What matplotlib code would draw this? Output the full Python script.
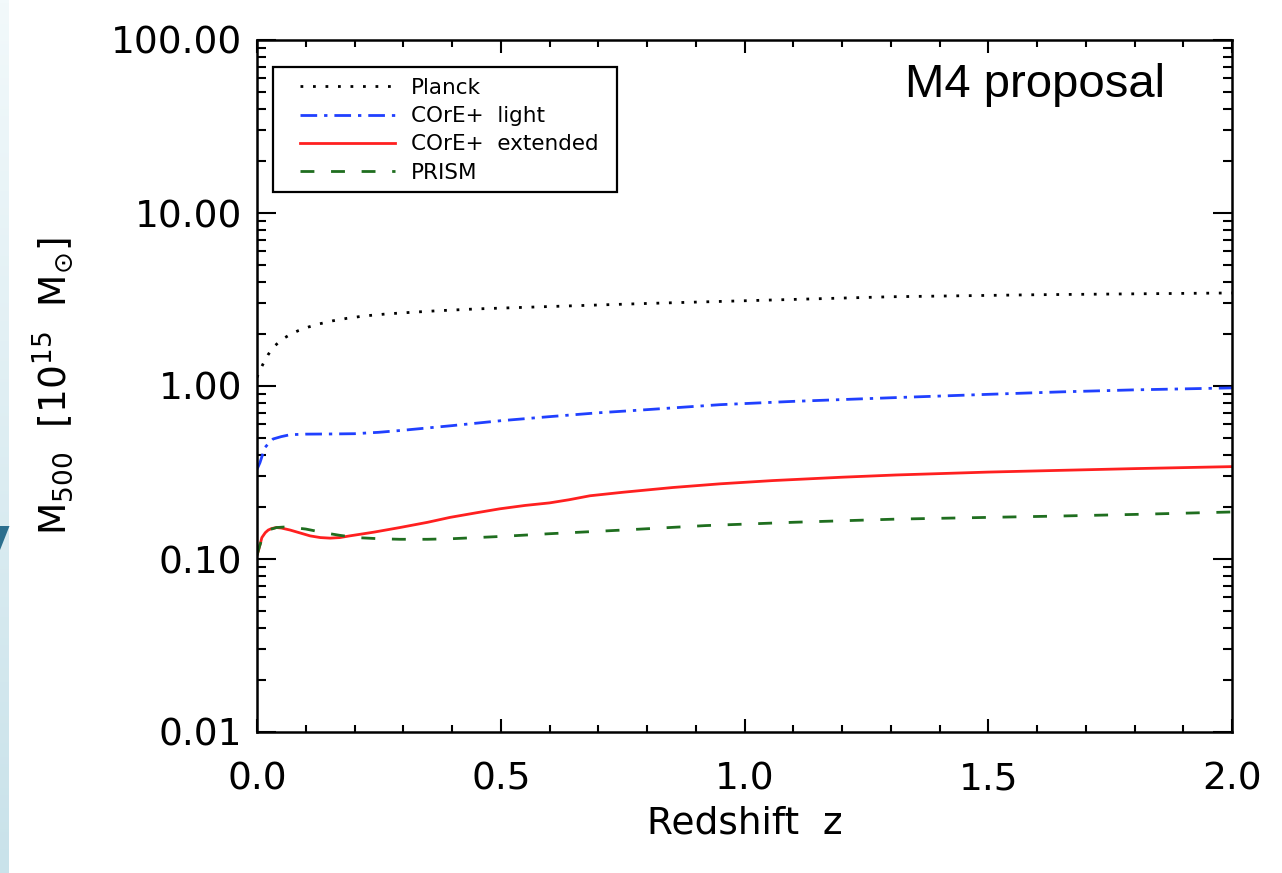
import numpy as np
import matplotlib
matplotlib.use("Agg")
import matplotlib.pyplot as plt
from matplotlib.ticker import LogLocator, FixedLocator, MultipleLocator, FormatStrFormatter, NullFormatter
from matplotlib.patches import Polygon, Rectangle
from matplotlib.colors import LinearSegmentedColormap

# ---------------- data ----------------
z_planck = [0.0, 0.005, 0.013, 0.023, 0.033, 0.05, 0.07, 0.085, 0.105, 0.126, 0.155,
            0.184, 0.22, 0.266, 0.32, 0.368, 0.45, 0.6, 0.8, 1.0, 1.3, 1.6, 2.0]
m_planck = [1.12, 1.22, 1.35, 1.52, 1.67, 1.85, 2.0, 2.09, 2.19, 2.28, 2.38,
            2.46, 2.54, 2.61, 2.67, 2.72, 2.79, 2.88, 3.0, 3.11, 3.28, 3.37, 3.45]

z_light = [0.0, 0.006, 0.016, 0.025, 0.033, 0.05, 0.068, 0.1, 0.15, 0.2, 0.25, 0.3,
           0.4, 0.5, 0.6, 0.7, 0.8, 0.95, 1.1, 1.3, 1.5, 1.65, 1.8, 2.0]
m_light = [0.33, 0.36, 0.44, 0.47, 0.494, 0.51, 0.523, 0.527, 0.528, 0.53, 0.54, 0.555,
           0.59, 0.63, 0.665, 0.70, 0.73, 0.78, 0.815, 0.855, 0.895, 0.925, 0.95, 0.975]

z_ext = [0.0, 0.003, 0.01, 0.017, 0.023, 0.03, 0.04, 0.05, 0.068, 0.09, 0.109, 0.13,
         0.15, 0.17, 0.19, 0.24, 0.293, 0.35, 0.396, 0.45, 0.498, 0.55, 0.6, 0.64,
         0.683, 0.75, 0.853, 0.95, 1.058, 1.2, 1.311, 1.5, 1.64, 1.8, 2.0]
m_ext = [0.105, 0.112, 0.133, 0.142, 0.147, 0.15, 0.152, 0.151, 0.147, 0.141, 0.136, 0.133,
         0.132, 0.133, 0.136, 0.143, 0.152, 0.163, 0.174, 0.185, 0.195, 0.204, 0.211, 0.22,
         0.232, 0.243, 0.259, 0.272, 0.284, 0.297, 0.306, 0.318, 0.325, 0.333, 0.342]

z_prism = [0.0, 0.005, 0.01, 0.02, 0.03, 0.04, 0.055, 0.074, 0.1, 0.143, 0.17, 0.204,
           0.25, 0.293, 0.35, 0.4, 0.5, 0.6, 0.75, 0.92, 1.1, 1.31, 1.5, 1.64, 1.8, 2.0]
m_prism = [0.105, 0.118, 0.13, 0.144, 0.149, 0.152, 0.153, 0.152, 0.149, 0.141, 0.137, 0.133,
           0.131, 0.13, 0.13, 0.131, 0.135, 0.14, 0.147, 0.156, 0.163, 0.17, 0.174, 0.177, 0.181, 0.187]

labels = ["Planck", "COrE+  light", "COrE+  extended", "PRISM"]
ytick_vals = [0.01, 0.1, 1.0, 10.0, 100.0]
xtick_vals = [0.0, 0.5, 1.0, 1.5, 2.0]

# ---------------- figure ----------------
W, H = 1282, 873
fig = plt.figure(figsize=(W / 100, H / 100), dpi=100)
fig.patch.set_facecolor("white")

# decorative left strip (slide background)
bg = fig.add_axes([0, 0, 9 / W, 1])
grad = np.linspace(0, 1, 256).reshape(-1, 1)
cm = LinearSegmentedColormap.from_list("strip", ["#f2f9fb", "#c9e2ea"])
bg.imshow(grad, aspect="auto", cmap=cm, extent=[0, 1, 0, 1], origin="upper")
bg.set_axis_off()
fig.patches.append(Polygon([(0, 1 - 526 / H), (9.5 / W, 1 - 526 / H), (0, 1 - 550 / H)],
                           closed=True, transform=fig.transFigure, facecolor="#2b6f8e",
                           edgecolor="none", zorder=5))

L, R, T, B = 257, 1232, 40, 732
ax = fig.add_axes([L / W, 1 - B / H, (R - L) / W, (B - T) / H])

lw = 2.0
ax.plot(z_planck, m_planck, color="black", lw=lw, linestyle=(0, (1.0, 3.5)),
        dash_capstyle="butt", label=labels[0])
ax.plot(z_light, m_light, color="#2040ff", lw=lw, linestyle=(0, (6, 2.5, 1.2, 2.5)),
        label=labels[1])
ax.plot(z_ext, m_ext, color="#ff2020", lw=lw, linestyle="-", label=labels[2])
ax.plot(z_prism, m_prism, color="#1f6e1f", lw=lw, linestyle=(0, (5.0, 6.0)),
        label=labels[3])

ax.set_yscale("log")
ax.set_ylim(0.01, 100)
ax.set_xlim(0, 2.0)

ax.yaxis.set_major_locator(FixedLocator(ytick_vals))
ax.yaxis.set_major_formatter(FormatStrFormatter("%.2f"))
ax.yaxis.set_minor_locator(LogLocator(base=10, subs=np.arange(2, 10)))
ax.yaxis.set_minor_formatter(NullFormatter())
ax.xaxis.set_major_locator(FixedLocator(xtick_vals))
ax.xaxis.set_major_formatter(FormatStrFormatter("%.1f"))
ax.xaxis.set_minor_locator(MultipleLocator(0.1))

for s in ax.spines.values():
    s.set_linewidth(1.8)

ax.tick_params(axis="both", which="both", direction="in", top=True, right=True, width=1.5,
               labelsize=27)
ax.tick_params(axis="y", which="major", length=13.7, pad=10.5)
ax.tick_params(axis="y", which="minor", length=6.8)
ax.tick_params(axis="x", which="major", length=9.4, pad=21)
ax.tick_params(axis="x", which="minor", length=5)

ax.set_xlabel("Redshift  z", fontsize=27, labelpad=6)
ax.set_ylabel(r"M$_{500}$  [10$^{15}$  M$_{\odot}$]", fontsize=27)
ax.yaxis.set_label_coords((76 - L) / (R - L), 0.5)

ax.text((905 - L) / (R - L), (B - 97) / (B - T), "M4 proposal", transform=ax.transAxes,
        fontsize=34, family="Liberation Sans", ha="left", va="baseline")

# legend
leg = ax.legend(loc="upper left", bbox_to_anchor=((300 - L) / (R - L), (B - 78) / (B - T)),
                frameon=False, fontsize=15.5, handlelength=4.4, handletextpad=0.75,
                labelspacing=0.38, borderpad=0, borderaxespad=0)
ax.add_patch(Rectangle(((273 - L) / (R - L), (B - 192) / (B - T)),
                       (617 - 273) / (R - L), (192 - 67) / (B - T),
                       transform=ax.transAxes, fill=False, edgecolor="black", lw=1.6, zorder=4))

fig.savefig("out.png", dpi=100)
